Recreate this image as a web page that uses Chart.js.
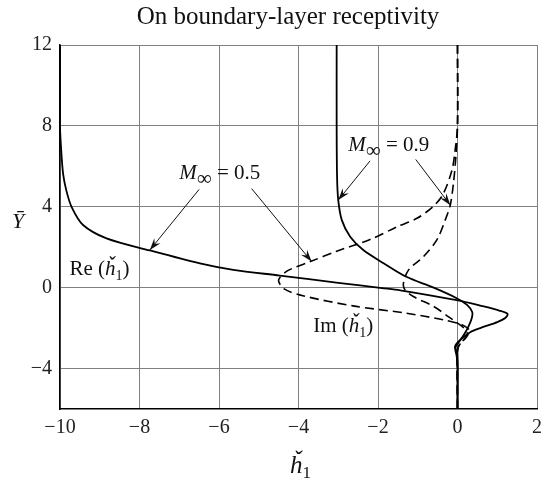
<!DOCTYPE html>
<html>
<head>
<meta charset="utf-8">
<script src="https://cdn.jsdelivr.net/npm/chart.js@4.4.0/dist/chart.umd.min.js"></script>
<style>
  html, body { margin: 0; padding: 0; background: #fff; }
</style>
</head>
<body>
<canvas id="chart" width="541" height="479"></canvas>
<script>
const xTicks = [-10, -8, -6, -4, -2, 0, 2];
const yTicks = [-4, 0, 4, 8, 12];

// M = 0.5, real part (solid)
const re05 = [
  [-10, 12], [-10, 8], [-9.97, 6.8], [-9.92, 5.6], [-9.84, 4.8], [-9.71, 4.0],
  [-9.42, 3.1], [-8.83, 2.44], [-7.74, 1.84], [-6.48, 1.2], [-5.64, 0.88],
  [-4.47, 0.6], [-3, 0.24], [-1.9, -0.02], [-1.44, -0.13], [-0.02, -0.62],
  [0.6, -0.9], [1.05, -1.13], [1.26, -1.3], [1.2, -1.5], [1.0, -1.7],
  [0.6, -1.98], [0.32, -2.2], [0.07, -2.58], [-0.06, -2.9], [-0.02, -3.4],
  [0, -3.8], [0, -6]
];
// M = 0.5, imaginary part (dashed)
const im05 = [
  [0, 12], [0, 8], [-0.06, 6.8], [-0.14, 5.8], [-0.37, 4.6], [-0.62, 4.0],
  [-1.02, 3.43], [-1.5, 3.03], [-2.2, 2.38], [-3.04, 1.8], [-3.7, 1.29],
  [-4.27, 0.84], [-4.5, 0.38], [-4.36, -0.06], [-3.89, -0.4], [-2.63, -0.9],
  [-1.3, -1.26], [-0.35, -1.59], [0.11, -1.83], [0.3, -2.12], [0.2, -2.5],
  [0.05, -2.8], [0, -3.2], [0, -6]
];
// M = 0.9, real part (solid)
const re09 = [
  [-3.04, 12], [-3.04, 8], [-3.03, 5.5], [-3.0, 4.33], [-2.91, 3.34],
  [-2.7, 2.52], [-2.37, 1.86], [-1.86, 1.21], [-1.3, 0.55], [-0.6, 0],
  [-0.02, -0.52], [0.24, -0.85], [0.37, -1.2], [0.36, -1.5], [0.28, -1.9],
  [0.17, -2.3], [0.05, -2.65], [-0.05, -2.95], [0, -3.3], [0, -6]
];
// M = 0.9, imaginary part (dashed)
const im09 = [
  [0, 12], [0, 8], [-0.04, 6.5], [-0.1, 5.2], [-0.18, 4.1], [-0.31, 3.34],
  [-0.52, 2.36], [-0.86, 1.53], [-1.23, 0.88], [-1.36, 0.22], [-1.32, -0.11],
  [-1.11, -0.44], [-0.6, -0.93], [-0.23, -1.43], [0, -1.75], [0.15, -1.98],
  [0.25, -2.3], [0.1, -2.7], [0, -3], [0, -6]
];

const SERIF = '"Liberation Serif", "Times New Roman", serif';

function toPoints(arr) {
  return arr.map(p => ({ x: p[0], y: p[1] }));
}

function drawRuns(ctx, x, y, runs) {
  let cx = x;
  runs.forEach(r => {
    ctx.font = r.font;
    ctx.fillText(r.t, cx, y + (r.dy || 0));
    cx += ctx.measureText(r.t).width;
  });
}

function arrow(ctx, x1, y1, x2, y2) {
  ctx.beginPath();
  ctx.moveTo(x1, y1);
  ctx.lineTo(x2, y2);
  ctx.stroke();
  const a = Math.atan2(y2 - y1, x2 - x1);
  const len = 12, w = 4;
  const c = Math.cos(a), s = Math.sin(a);
  ctx.beginPath();
  ctx.moveTo(x2, y2);
  ctx.lineTo(x2 - len * c + w * s, y2 - len * s - w * c);
  ctx.lineTo(x2 - 0.65 * len * c, y2 - 0.65 * len * s);
  ctx.lineTo(x2 - len * c - w * s, y2 - len * s + w * c);
  ctx.closePath();
  ctx.fill();
}

const notes = {
  id: "notes",
  afterDraw(chart) {
    const ctx = chart.ctx;
    const xs = chart.scales.x, ys = chart.scales.y;
    const px = v => xs.getPixelForValue(v);
    const py = v => ys.getPixelForValue(v);
    ctx.save();
    ctx.fillStyle = "#111";
    ctx.strokeStyle = "#111";
    ctx.lineWidth = 1;
    ctx.textBaseline = "alphabetic";

    // title
    ctx.font = "25px " + SERIF;
    ctx.textAlign = "center";
    ctx.fillText("On boundary-layer receptivity", 288, 24);
    ctx.textAlign = "left";

    // axis titles
    drawRuns(ctx, 12, 228, [{ t: "Ȳ", font: "italic 22px " + SERIF }]);
    drawRuns(ctx, 290, 473, [
      { t: "ȟ", font: "italic 25px " + SERIF },
      { t: "1", font: "17px " + SERIF, dy: 5 }
    ]);

    // Mach labels
    const mach = (x, y, val) => drawRuns(ctx, px(x), py(y), [
      { t: "M", font: "italic 21px " + SERIF },
      { t: "∞", font: "21px " + SERIF, dy: 6 },
      { t: " = " + val, font: "21px " + SERIF }
    ]);
    mach(-7.0, 5.35, "0.5");
    mach(-2.75, 6.75, "0.9");

    arrow(ctx, px(-6.5), py(4.86), px(-7.74), py(1.86));
    arrow(ctx, px(-5.18), py(4.9), px(-3.67), py(1.29));
    arrow(ctx, px(-2.2), py(6.27), px(-3.0), py(4.33));
    arrow(ctx, px(-1.05), py(6.34), px(-0.18), py(4.08));

    // curve labels
    const part = (x, y, name) => drawRuns(ctx, px(x), py(y), [
      { t: name + " (", font: "21px " + SERIF },
      { t: "ȟ", font: "italic 21px " + SERIF },
      { t: "1", font: "14px " + SERIF, dy: 5 },
      { t: ")", font: "21px " + SERIF }
    ]);
    part(-9.76, 0.63, "Re");
    part(-3.63, -2.21, "Im");
    ctx.restore();
  }
};

const solid = { borderColor: "#000", borderWidth: 1.8, pointRadius: 0, showLine: true, tension: 0.3, fill: false };
const dashed = Object.assign({}, solid, { borderWidth: 1.6, borderDash: [9, 5] });

const tickLabel = v => (v < 0 ? "\u2212" + Math.abs(v) : String(v));

new Chart(document.getElementById("chart").getContext("2d"), {
  type: "scatter",
  data: {
    datasets: [
      Object.assign({ label: "Re M0.5", data: toPoints(re05) }, solid),
      Object.assign({ label: "Im M0.5", data: toPoints(im05) }, dashed),
      Object.assign({ label: "Re M0.9", data: toPoints(re09) }, solid),
      Object.assign({ label: "Im M0.9", data: toPoints(im09) }, dashed)
    ]
  },
  options: {
    responsive: false,
    animation: false,
    layout: { padding: { top: 45, right: 4, left: 0, bottom: 0 } },
    plugins: { legend: { display: false }, tooltip: { enabled: false } },
    scales: {
      x: {
        type: "linear",
        min: -10,
        max: 2,
        afterBuildTicks: s => { s.ticks = xTicks.map(v => ({ value: v })); },
        afterFit: s => { s.height = 70; s.paddingLeft = 0; s.paddingRight = 0; },
        grid: { color: "#808080", lineWidth: 1, drawTicks: false },
        border: { color: "#000", width: 1.5 },
        ticks: {
          padding: 7,
          color: "#222",
          font: { family: SERIF, size: 20 },
          callback: tickLabel
        }
      },
      y: {
        type: "linear",
        min: -6,
        max: 12,
        afterBuildTicks: s => { s.ticks = yTicks.map(v => ({ value: v })); },
        afterFit: s => { s.width = 60; s.paddingTop = 0; s.paddingBottom = 0; },
        grid: { color: "#808080", lineWidth: 1, drawTicks: false },
        border: { color: "#000", width: 1.5 },
        ticks: {
          padding: 8,
          color: "#222",
          font: { family: SERIF, size: 20 },
          callback: tickLabel
        }
      }
    }
  },
  plugins: [notes]
});
</script>
</body>
</html>
